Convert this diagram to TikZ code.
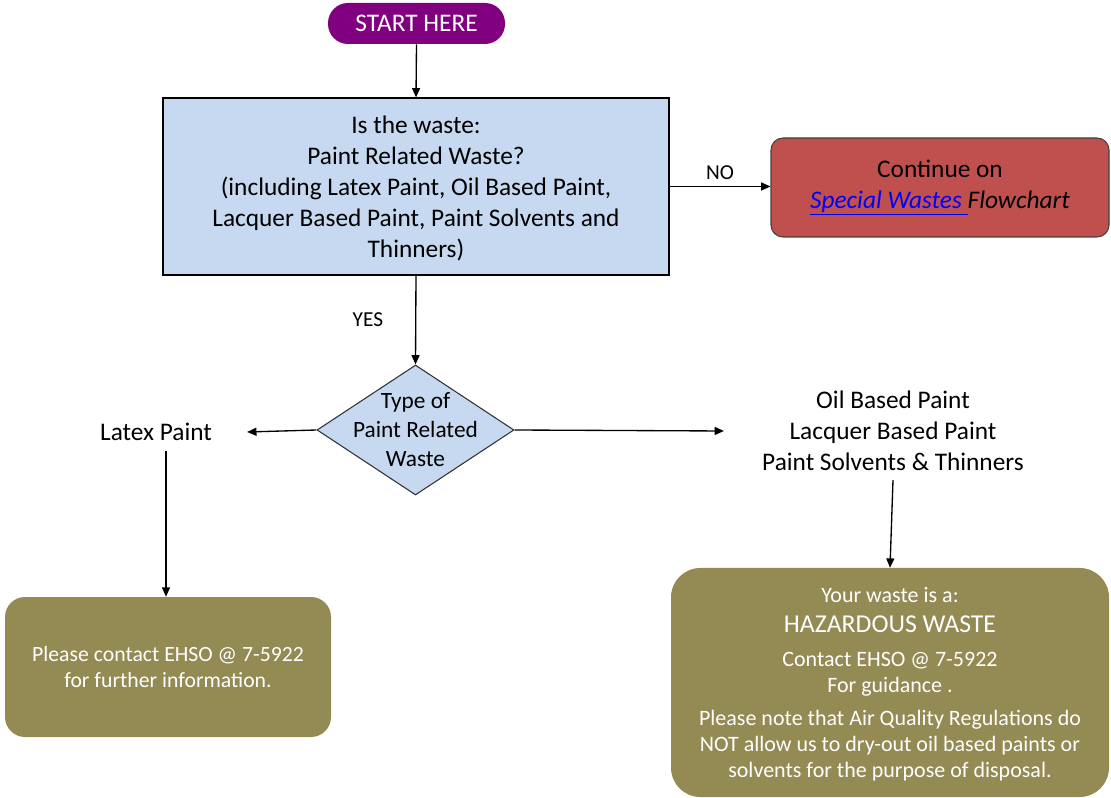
\documentclass[tikz,border=0pt]{standalone}
\usepackage{fontspec}
\setmainfont{Carlito}
\usetikzlibrary{shapes.geometric,arrows.meta,calc}
\definecolor{startpurple}{HTML}{800080}
\definecolor{qblue}{HTML}{C6D9F1}
\definecolor{exitred}{HTML}{C0504D}
\definecolor{olivebox}{HTML}{948A54}
\definecolor{linkblue}{HTML}{0000FF}
\newcommand\fs[2]{\fontsize{#1}{#2}\selectfont}

\begin{document}
\begin{tikzpicture}[x=0.75pt,y=-0.75pt,
  arr/.style={draw=black,line width=1pt,-{Triangle[length=7pt,width=6pt]}},
  lbl/.style={font=\fs{16}{18}, inner sep=0pt},
  qbox/.style={draw=black,line width=0.9pt,fill=qblue,align=center,
    font=\fs{19}{23.25}},
  endbox/.style={fill=olivebox,text=white,align=center,rounded corners=#1},
  plain/.style={align=center,inner sep=0pt}]
\useasboundingbox (0,0) rectangle (1111,798);

% start terminal
\node[fill=startpurple,text=white,rounded corners=15pt,inner sep=0pt,
  minimum width=132.75pt,minimum height=30.75pt,font=\fs{19}{22}]
  (start) at (416.5,23.5) {START HERE};

% main question
\node[qbox,minimum width=379.5pt,minimum height=132.75pt,inner sep=0pt,
  text depth=-4pt] (main) at (416,186.5)
  {Is the waste:\\Paint Related Waste?\\(including Latex Paint, Oil Based Paint,\\
   Lacquer Based Paint, Paint Solvents and\\Thinners)};

% exit to other flowchart
\node[draw=black!75,line width=0.8pt,fill=exitred,rounded corners=9pt,align=center,
  inner sep=0pt,minimum width=253.5pt,minimum height=74.25pt,font=\fs{19}{23}]
  (special) at (940,187.5)
  {Continue on\\{\itshape\color{linkblue}\underline{Special Wastes }}\textit{Flowchart}};

% paint type decision: fixed-size diamond, text set on top of it
\node[diamond,aspect=1.515,draw=black!80,line width=0.8pt,fill=qblue,inner sep=0pt,
  minimum width=147.75pt,minimum height=97.5pt,
  label={[align=center,inner sep=0pt,font=\fs{17.5}{21.75}]center:Type of\\Paint Related\\Waste}]
  (type) at (415.5,430) {};

% outcomes of the decision
\node[plain,font=\fs{19}{23.25}] (latex) at (156,432) {Latex Paint};
\node[plain,font=\fs{19}{23.25}] (oil) at (893,431)
  {Oil Based Paint\\Lacquer Based Paint\\Paint Solvents \& Thinners};

% final boxes
\node[endbox=15pt,minimum width=244.5pt,minimum height=105pt,inner sep=0pt,
  font=\fs{16.3}{19.5}] (contact) at (168,667)
  {Please contact EHSO @ 7-5922\\for further information.};
\node[endbox=22pt,minimum width=328.5pt,minimum height=171.75pt,inner sep=0pt,
  font=\fs{16.5}{19.5},text depth=-3pt] (hazard) at (890,682.5)
  {Your waste is a:\\[3pt]{\fs{19.3}{19.5}HAZARDOUS WASTE}\\[6pt]
   Contact EHSO @ 7-5922\\For guidance .\\[5pt]
   Please note that Air Quality Regulations do\\
   NOT allow us to dry-out oil based paints or\\
   solvents for the purpose of disposal.};

% connectors
\draw[arr] (start.south) -- (main.north);
\draw[arr] (main.east) -- (main.east -| special.west)
  node[lbl,midway,above=5pt] (nolbl) {NO};
\draw[arr] (main.south) -- (type.north)
  node[lbl,pos=0.5,left=24pt] (yeslbl) {YES};
\draw[arr] (type.west) -- ($(latex.east)+(35,0)$);
\draw[arr] (type.east) -- ($(oil.west)+(-38,0)$);
\coordinate (latexfoot) at ($(latex.south)+(10,10)$);
\draw[arr] (latexfoot) -- (latexfoot |- contact.north);
\draw[arr] ($(oil.south)+(0,9)$) -- (hazard.north);
\end{tikzpicture}
\end{document}
